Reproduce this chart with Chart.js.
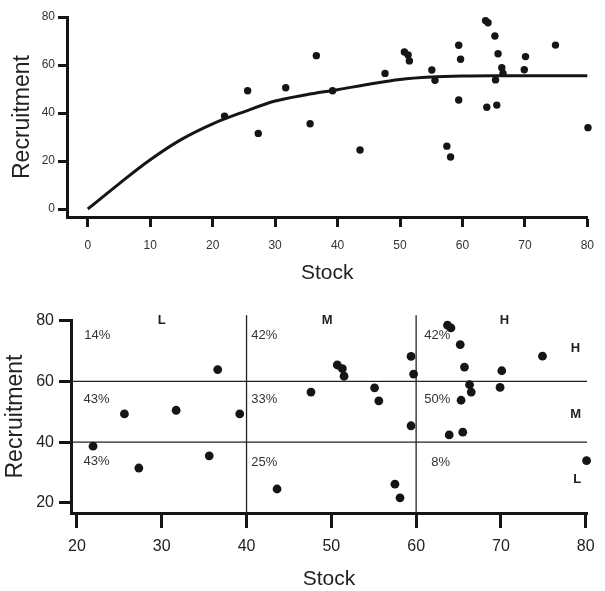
<!DOCTYPE html>
<html><head><meta charset="utf-8">
<script src="https://cdn.jsdelivr.net/npm/chart.js@4.4.0/dist/chart.umd.min.js"></script>
<style>
html,body{margin:0;padding:0;background:#fff;overflow:hidden;}
#c1{position:absolute;left:0;top:0;}
#c2{position:absolute;left:0;top:300px;}
</style></head><body>
<canvas id="c1" width="605" height="300"></canvas>
<canvas id="c2" width="605" height="291"></canvas>
<script>
// ---- data ----
const stock = [21.9, 25.6, 27.3, 31.7, 35.6, 36.6, 39.2, 43.6, 47.6, 50.7, 51.3, 51.5, 55.1, 55.6, 57.5, 58.1,
               59.4, 59.7, 59.4, 63.7, 64.1, 65.2, 65.7, 66.3, 66.5, 65.3, 63.9, 65.5, 70.1, 69.9, 74.9, 80.1];
const recruitment = [38.7, 49.3, 31.5, 50.5, 35.5, 63.9, 49.3, 24.6, 56.5, 65.4, 64.2, 61.7, 57.9, 53.6, 26.2, 21.7,
               68.2, 62.4, 45.4, 78.5, 77.6, 72.1, 64.7, 58.9, 56.5, 53.8, 42.4, 43.3, 63.5, 58.0, 68.3, 33.9];
const curveStock = [0, 5, 10, 15, 20, 25, 30, 35, 40, 45, 50, 55, 60, 65, 70, 75, 80];
const curveRecruitment = [0, 10.5, 20.5, 29, 35.5, 40.5, 45.0, 47.6, 49.7, 52, 54, 55.0, 55.4, 55.5, 55.5, 55.5, 55.5];
const topXTicks = [0, 10, 20, 30, 40, 50, 60, 70, 80];
const topYTicks = [0, 20, 40, 60, 80];
const bottomXTicks = [20, 30, 40, 50, 60, 70, 80];
const bottomYTicks = [20, 40, 60, 80];
const stockCuts = [40, 60];
const recruitCuts = [40, 60];
const stockClassLabels = ['L', 'M', 'H'];
const recruitClassLabels = ['H', 'M', 'L'];
const percentLabels = ['14%', '43%', '43%', '42%', '33%', '25%', '42%', '50%', '8%'];

// ---- text anchors (data coordinates) ----
const stockClassAnchors = [[30, 80], [49.5, 80], [70.4, 80]];
const recruitClassAnchors = [[78.8, 70.9], [78.8, 49.2], [79, 27.7]];
const percentAnchors = [[22.4, 75.2], [22.3, 54.2], [22.3, 33.6],
                        [42.1, 75.2], [42.1, 54.2], [42.1, 33.5],
                        [62.5, 75.1], [62.5, 54.1], [62.9, 33.5]];

const FONT = "'Liberation Sans', Arial, Helvetica, sans-serif";
const INK = '#151515';
function fixedTicks(vals) { return function (scale) { scale.ticks = vals.map(v => ({ value: v })); }; }
const pts = stock.map((x, i) => ({ x: x, y: recruitment[i] }));

// ---------------- top chart ----------------
new Chart(document.getElementById('c1'), {
  type: 'scatter',
  data: { datasets: [
    { data: curveStock.map((x, i) => ({ x: x, y: curveRecruitment[i] })), showLine: true, cubicInterpolationMode: 'monotone',
      borderColor: INK, borderWidth: 3, pointRadius: 0, pointHoverRadius: 0, clip: false, order: 2 },
    { data: pts, backgroundColor: INK, borderColor: INK, borderWidth: 0, pointRadius: 3.7, pointHoverRadius: 3.7,
      clip: false, order: 1 }
  ] },
  options: {
    responsive: false, animation: false, devicePixelRatio: 1,
    layout: { padding: { left: 0, right: 13, top: 17, bottom: 0 } },
    plugins: { legend: { display: false }, tooltip: { enabled: false } },
    scales: {
      x: { type: 'linear', min: -3.33, max: 80, afterBuildTicks: fixedTicks(topXTicks),
        afterFit: s => { s.height = 83; },
        border: { display: true, color: INK, width: 3 },
        grid: { drawOnChartArea: false, drawTicks: true, tickLength: 10, tickWidth: 3, tickColor: INK },
        ticks: { font: { family: FONT, size: 12 }, color: '#333', padding: 11, maxRotation: 0 },
        title: { display: true, text: 'Stock', color: '#222', font: { family: FONT, size: 21, lineHeight: 1 },
          padding: { top: 0, bottom: 16.5 } } },
      y: { type: 'linear', min: -3.33, max: 80, afterBuildTicks: fixedTicks(topYTicks),
        afterFit: s => { s.width = 67; },
        border: { display: true, color: INK, width: 3 },
        grid: { drawOnChartArea: false, drawTicks: true, tickLength: 9, tickWidth: 3, tickColor: INK },
        ticks: { font: { family: FONT, size: 12 }, color: '#333', padding: 3 },
        title: { display: true, text: 'Recruitment', color: '#222', font: { family: FONT, size: 23, lineHeight: 1 },
          padding: { top: 11.5, bottom: 0 } } }
    }
  }
});

// ---------------- bottom chart ----------------
const X0 = 19.3, X1 = 80.15, Y0 = 16.7, YTOP = 81.8;
const cutSets = [];
stockCuts.forEach(v => cutSets.push({ data: [{ x: v, y: Y0 }, { x: v, y: YTOP }] }));
recruitCuts.forEach(v => cutSets.push({ data: [{ x: X0, y: v }, { x: X1, y: v }] }));

const annotate = {
  id: 'annotate',
  afterDatasetsDraw(chart) {
    const ctx = chart.ctx, xs = chart.scales.x, ys = chart.scales.y;
    ctx.save();
    ctx.textAlign = 'center'; ctx.textBaseline = 'middle';
    ctx.fillStyle = '#222';
    ctx.font = 'bold 13px ' + FONT;
    stockClassLabels.forEach((t, i) => ctx.fillText(t, xs.getPixelForValue(stockClassAnchors[i][0]), ys.getPixelForValue(stockClassAnchors[i][1])));
    recruitClassLabels.forEach((t, i) => ctx.fillText(t, xs.getPixelForValue(recruitClassAnchors[i][0]), ys.getPixelForValue(recruitClassAnchors[i][1])));
    ctx.fillStyle = '#333';
    ctx.font = '13px ' + FONT;
    percentLabels.forEach((t, i) => ctx.fillText(t, xs.getPixelForValue(percentAnchors[i][0]), ys.getPixelForValue(percentAnchors[i][1])));
    ctx.restore();
  }
};

new Chart(document.getElementById('c2'), {
  type: 'scatter',
  data: { datasets: cutSets.map(d => Object.assign(d, { showLine: true, borderColor: '#222', borderWidth: 1.3,
      pointRadius: 0, pointHoverRadius: 0, clip: false, order: 2 })).concat([
    { data: pts, backgroundColor: INK, borderColor: INK, borderWidth: 0, pointRadius: 4.4, pointHoverRadius: 4.4,
      clip: false, order: 1 }
  ]) },
  options: {
    responsive: false, animation: false, devicePixelRatio: 1,
    layout: { padding: { left: 0, right: 18, top: 20, bottom: 0 } },
    plugins: { legend: { display: false }, tooltip: { enabled: false } },
    scales: {
      x: { type: 'linear', min: X0, max: X1, afterBuildTicks: fixedTicks(bottomXTicks),
        afterFit: s => { s.height = 78; },
        border: { display: true, color: INK, width: 3 },
        grid: { drawOnChartArea: false, drawTicks: true, tickLength: 15, tickWidth: 3, tickColor: INK },
        ticks: { font: { family: FONT, size: 16 }, color: '#222', padding: 9, maxRotation: 0 },
        title: { display: true, text: 'Stock', color: '#222', font: { family: FONT, size: 21, lineHeight: 1 },
          padding: { top: 0, bottom: 1.5 } } },
      y: { type: 'linear', min: Y0, max: 80.2, afterBuildTicks: fixedTicks(bottomYTicks),
        afterFit: s => { s.width = 71; },
        border: { display: true, color: INK, width: 3 },
        grid: { drawOnChartArea: false, drawTicks: true, tickLength: 12, tickWidth: 3, tickColor: INK },
        ticks: { font: { family: FONT, size: 16 }, color: '#222', padding: 5 },
        title: { display: true, text: 'Recruitment', color: '#222', font: { family: FONT, size: 23, lineHeight: 1 },
          padding: { top: 4.5, bottom: 0 } } }
    }
  },
  plugins: [annotate]
});
</script>
</body></html>
